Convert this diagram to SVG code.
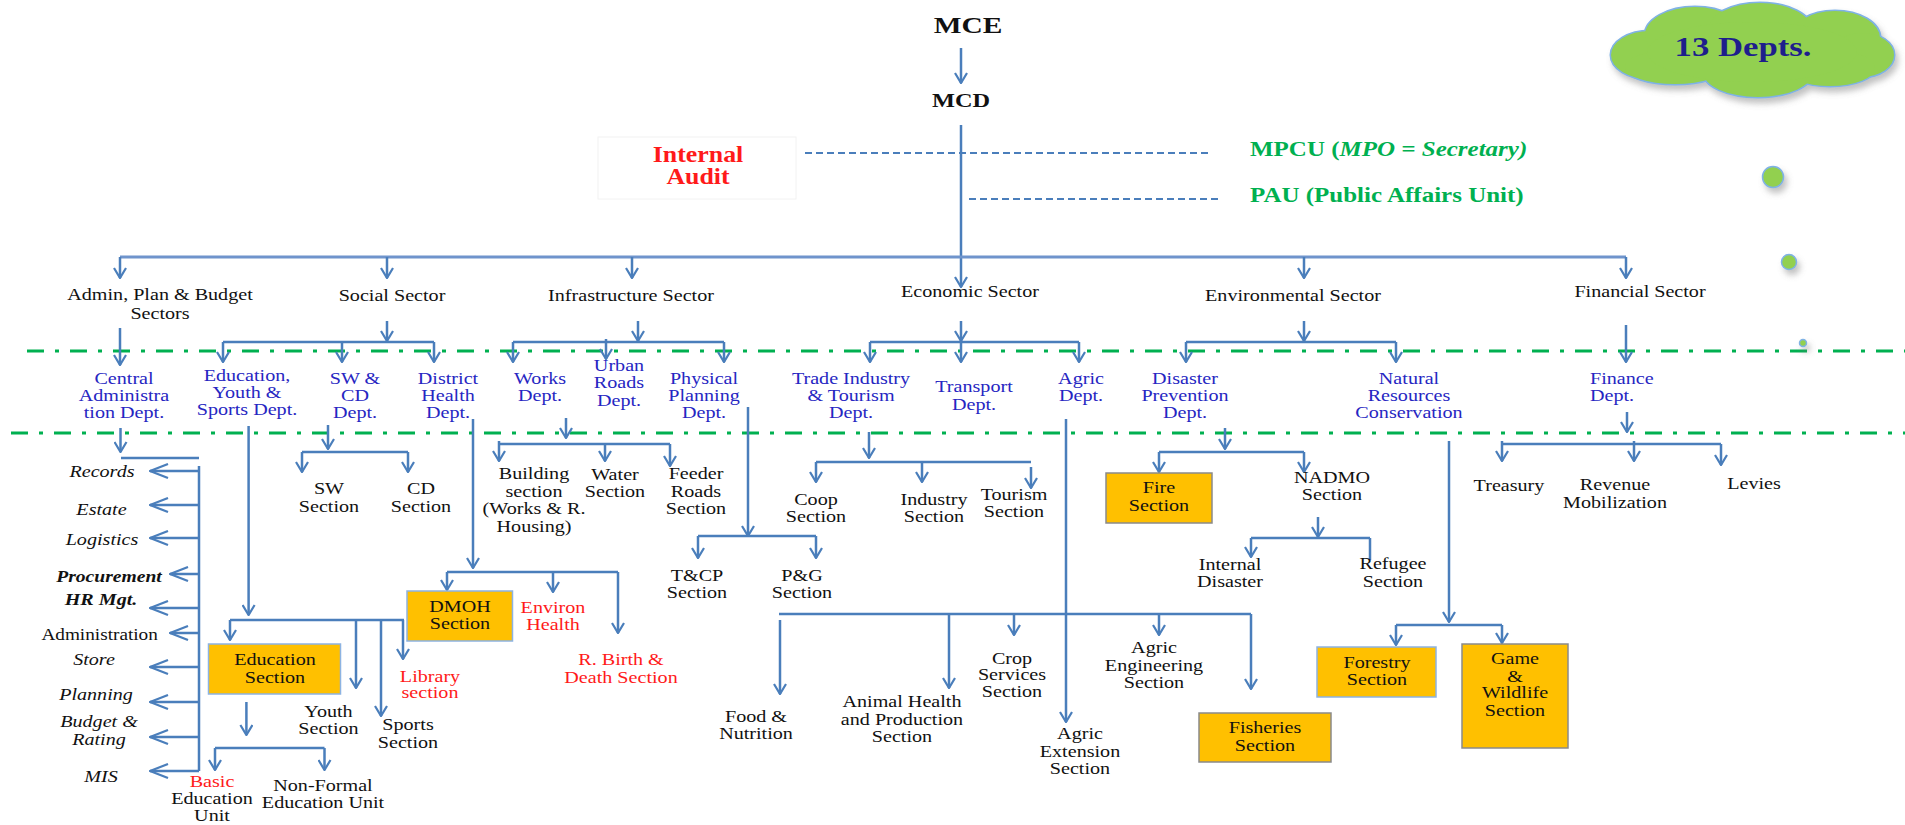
<svg xmlns="http://www.w3.org/2000/svg" width="1905" height="825" viewBox="0 0 1905 825">
<defs>
<style>
.c{fill:none;stroke:#4a7ebb;stroke-width:2.5}
.a{marker-end:url(#ah)}
.al{marker-end:url(#ahL)}
.d{fill:none;stroke:#4a7ebb;stroke-width:2;stroke-dasharray:7 4}
.g{fill:none;stroke:#00b050;stroke-width:3;stroke-dasharray:17 11 4 11}
.t{font-family:"Liberation Serif","Times New Roman",serif;font-size:17.5px;text-anchor:middle;fill:#111}
.s{text-anchor:start}
.i{font-style:italic}
.bi{font-style:italic;font-weight:bold}
.bl{fill:#2626c2}
.r{fill:#ff1a1a}
.box{fill:#ffc000;stroke-width:1.5}
.bb{stroke:#8db3e2}
.bg{stroke:#8a8a8a}
.bub{fill:#92d050;stroke:#7fb2e5;stroke-width:1.5}
.cl-o{fill:#92d050;stroke:#7fb2e5;stroke-width:3}
.cl-f{fill:#92d050;stroke:none}
</style>
<marker id="ah" viewBox="0 0 12 14" refX="11" refY="7" markerWidth="12" markerHeight="14" markerUnits="userSpaceOnUse" orient="auto"><path d="M1,1 L11,7 L1,13" fill="none" stroke="#4a7ebb" stroke-width="2.2"/></marker>
<marker id="ahL" viewBox="0 0 20 16" refX="19" refY="8" markerWidth="20" markerHeight="16" markerUnits="userSpaceOnUse" orient="auto"><path d="M1,1 L19,8 L1,15" fill="none" stroke="#4a7ebb" stroke-width="2.2"/></marker>
<filter id="sh" x="-10%" y="-10%" width="130%" height="140%"><feDropShadow dx="3" dy="5" stdDeviation="3" flood-color="#777" flood-opacity="0.45"/></filter>
</defs>
<rect width="1905" height="825" fill="#fff"/>

<g id="separators">
<path class="g" d="M27,351 H1905"/>
<path class="g" d="M11,433 H1905"/>
</g>

<g id="connectors">
<path class="c a" d="M961,48 V83"/>
<path class="c a" d="M961,125 V287"/>
<path class="d" d="M805,153 H1212"/>
<path class="d" d="M969,199 H1219"/>
<path class="c" d="M120,257 H1626" style="stroke:#6f94cc;stroke-width:3"/>
<path class="c a" d="M120,257 V278"/>
<path class="c a" d="M387,257 V278"/>
<path class="c a" d="M632,257 V278"/>
<path class="c a" d="M1304,257 V278"/>
<path class="c a" d="M1626,257 V278"/>
<path class="c a" d="M120,328 V365"/>
<path class="c a" d="M387,321 V341"/>
<path class="c" d="M223,342 H434"/>
<path class="c a" d="M223,342 V362"/>
<path class="c a" d="M342,342 V362"/>
<path class="c a" d="M434,342 V362"/>
<path class="c a" d="M638,321 V341"/>
<path class="c" d="M513,342 H724"/>
<path class="c a" d="M513,342 V362"/>
<path class="c a" d="M606,339 V359"/>
<path class="c a" d="M724,342 V362"/>
<path class="c a" d="M961,321 V341"/>
<path class="c" d="M870,342 H1079"/>
<path class="c a" d="M870,342 V362"/>
<path class="c a" d="M961,342 V362"/>
<path class="c a" d="M1079,342 V362"/>
<path class="c a" d="M1304,321 V341"/>
<path class="c" d="M1186,342 H1396"/>
<path class="c a" d="M1186,342 V362"/>
<path class="c a" d="M1396,342 V362"/>
<path class="c a" d="M1626,325 V362"/>
<path class="c a" d="M120.5,428 V452"/>
<path class="c" d="M121,458 H199"/>
<path class="c" d="M199,466 V771"/>
<path class="c al" d="M199,471 H150"/>
<path class="c al" d="M199,505 H150"/>
<path class="c al" d="M199,538 H150"/>
<path class="c al" d="M199,574 H170"/>
<path class="c al" d="M199,608 H150"/>
<path class="c al" d="M199,633 H170"/>
<path class="c al" d="M199,667 H150"/>
<path class="c al" d="M199,702 H150"/>
<path class="c al" d="M199,737 H150"/>
<path class="c al" d="M199,771 H150"/>
<path class="c a" d="M248.6,426 V615"/>
<path class="c" d="M230,620 H404"/>
<path class="c a" d="M230,620 V640"/>
<path class="c a" d="M356,620 V688"/>
<path class="c a" d="M381,620 V716"/>
<path class="c a" d="M403,620 V659"/>
<path class="c a" d="M246.4,702 V735"/>
<path class="c" d="M215,748 H324.5"/>
<path class="c a" d="M215,748 V770"/>
<path class="c a" d="M324.5,748 V770"/>
<path class="c a" d="M328,425 V449"/>
<path class="c" d="M302,452 H408"/>
<path class="c a" d="M302,452 V472"/>
<path class="c a" d="M408,452 V472"/>
<path class="c a" d="M473,419 V568"/>
<path class="c" d="M447,572 H618"/>
<path class="c a" d="M447,572 V590"/>
<path class="c a" d="M553,572 V592"/>
<path class="c a" d="M618,572 V633"/>
<path class="c a" d="M566,418 V438"/>
<path class="c" d="M499,444 H670"/>
<path class="c a" d="M499,441 V461"/>
<path class="c a" d="M605,444 V461"/>
<path class="c a" d="M670,444 V466"/>
<path class="c a" d="M748,407 V536"/>
<path class="c" d="M698,536 H816"/>
<path class="c a" d="M698,536 V558"/>
<path class="c a" d="M816,536 V558"/>
<path class="c a" d="M869,432 V458"/>
<path class="c" d="M816,462 H1031"/>
<path class="c a" d="M816,462 V482"/>
<path class="c a" d="M922,462 V482"/>
<path class="c a" d="M1031,467 V488"/>
<path class="c a" d="M1066,419 V722"/>
<path class="c" d="M779,614 H1251"/>
<path class="c a" d="M780,620 V694"/>
<path class="c a" d="M949,614 V688"/>
<path class="c a" d="M1014,614 V635"/>
<path class="c a" d="M1159,614 V635"/>
<path class="c a" d="M1251,614 V689"/>
<path class="c a" d="M1225,428 V449"/>
<path class="c" d="M1159,452 H1304"/>
<path class="c a" d="M1159,452 V472"/>
<path class="c a" d="M1304,452 V472"/>
<path class="c a" d="M1318,517 V537"/>
<path class="c" d="M1251,538 H1370"/>
<path class="c a" d="M1251,538 V557"/>
<path class="c" d="M1370,538 V560"/>
<path class="c a" d="M1449,441 V622"/>
<path class="c" d="M1396,625 H1502"/>
<path class="c a" d="M1396,625 V645"/>
<path class="c a" d="M1502,625 V643"/>
<path class="c a" d="M1627,412 V432"/>
<path class="c" d="M1502,444 H1721"/>
<path class="c a" d="M1502,441 V461"/>
<path class="c a" d="M1634,441 V461"/>
<path class="c a" d="M1721,444 V465"/>
</g>

<g id="mce"><text class="t" style="font-size:23px;font-weight:bold" transform="translate(968,0) scale(1.28,1)" x="0" y="33">MCE</text></g>
<g id="mcd"><text class="t" style="font-size:19px;font-weight:bold" transform="translate(961,0) scale(1.28,1)" x="0" y="107">MCD</text></g>
<g id="internal-audit">
<rect x="598" y="137" width="198" height="62" fill="#fff" stroke="#f2f2f2" stroke-width="1"/>
<text class="t r" style="font-size:22.5px;font-weight:bold" transform="translate(698,0) scale(1.15,1)"><tspan x="0" y="162">Internal</tspan><tspan x="0" y="184">Audit</tspan></text>
</g>
<g id="mpcu"><text class="t s" style="font-size:21px;font-weight:bold;fill:#00b050" transform="translate(1250,0) scale(1.19,1)" x="0" y="156">MPCU (<tspan style="font-style:italic">MPO = Secretary)</tspan></text></g>
<g id="pau"><text class="t s" style="font-size:21px;font-weight:bold;fill:#00b050" transform="translate(1250,0) scale(1.19,1)" x="0" y="202">PAU (Public Affairs Unit)</text></g>
<g id="cloud">
<g filter="url(#sh)">
<ellipse class="cl-o" cx="1650" cy="55" rx="39" ry="24"/>
<ellipse class="cl-o" cx="1695" cy="35" rx="50" ry="28"/>
<ellipse class="cl-o" cx="1760" cy="30" rx="52" ry="27"/>
<ellipse class="cl-o" cx="1835" cy="38" rx="45" ry="27"/>
<ellipse class="cl-o" cx="1862" cy="55" rx="32" ry="22"/>
<ellipse class="cl-o" cx="1675" cy="67" rx="50" ry="17"/>
<ellipse class="cl-o" cx="1758" cy="72" rx="55" ry="25"/>
<ellipse class="cl-o" cx="1830" cy="68" rx="45" ry="18"/>
</g>
<ellipse class="cl-f" cx="1650" cy="55" rx="39" ry="24"/>
<ellipse class="cl-f" cx="1695" cy="35" rx="50" ry="28"/>
<ellipse class="cl-f" cx="1760" cy="30" rx="52" ry="27"/>
<ellipse class="cl-f" cx="1835" cy="38" rx="45" ry="27"/>
<ellipse class="cl-f" cx="1862" cy="55" rx="32" ry="22"/>
<ellipse class="cl-f" cx="1675" cy="67" rx="50" ry="17"/>
<ellipse class="cl-f" cx="1758" cy="72" rx="55" ry="25"/>
<ellipse class="cl-f" cx="1830" cy="68" rx="45" ry="18"/>
<ellipse class="cl-f" cx="1752" cy="52" rx="105" ry="30"/>
<text class="t" style="font-size:28px;font-weight:bold;fill:#1e1e8c" transform="translate(1743,0) scale(1.24,1)" x="0" y="56">13 Depts.</text>
</g>
<g id="bubbles" filter="url(#sh)">
<circle class="bub" cx="1773" cy="177" r="10.5"/>
<circle class="bub" cx="1789" cy="262" r="7.5"/>
<circle class="bub" cx="1803" cy="343" r="3.5"/>
</g>

<g id="sector-admin"><text class="t" transform="translate(160,0) scale(1.15,1)"><tspan x="0" y="300">Admin, Plan &amp; Budget</tspan><tspan x="0" y="319">Sectors</tspan></text></g>
<g id="sector-social"><text class="t" transform="translate(392,0) scale(1.15,1)" x="0" y="301">Social Sector</text></g>
<g id="sector-infra"><text class="t" transform="translate(631,0) scale(1.15,1)" x="0" y="301">Infrastructure Sector</text></g>
<g id="sector-economic"><text class="t" transform="translate(970,0) scale(1.15,1)" x="0" y="297">Economic Sector</text></g>
<g id="sector-env"><text class="t" transform="translate(1293,0) scale(1.15,1)" x="0" y="301">Environmental Sector</text></g>
<g id="sector-fin"><text class="t" transform="translate(1640,0) scale(1.15,1)" x="0" y="297">Financial Sector</text></g>

<g id="dept-central"><text class="t bl" transform="translate(124,0) scale(1.15,1)"><tspan x="0" y="384">Central</tspan><tspan x="0" y="401">Administra</tspan><tspan x="0" y="418">tion Dept.</tspan></text></g>
<g id="dept-education"><text class="t bl" transform="translate(247,0) scale(1.15,1)"><tspan x="0" y="381">Education,</tspan><tspan x="0" y="398">Youth &amp;</tspan><tspan x="0" y="415">Sports Dept.</tspan></text></g>
<g id="dept-swcd"><text class="t bl" transform="translate(355,0) scale(1.15,1)"><tspan x="0" y="384">SW &amp;</tspan><tspan x="0" y="401">CD</tspan><tspan x="0" y="418">Dept.</tspan></text></g>
<g id="dept-health"><text class="t bl" transform="translate(448,0) scale(1.15,1)"><tspan x="0" y="384">District</tspan><tspan x="0" y="401">Health</tspan><tspan x="0" y="418">Dept.</tspan></text></g>
<g id="dept-works"><text class="t bl" transform="translate(540,0) scale(1.15,1)"><tspan x="0" y="384">Works</tspan><tspan x="0" y="401">Dept.</tspan></text></g>
<g id="dept-urban"><text class="t bl" transform="translate(619,0) scale(1.15,1)"><tspan x="0" y="371">Urban</tspan><tspan x="0" y="388">Roads</tspan><tspan x="0" y="406">Dept.</tspan></text></g>
<g id="dept-physical"><text class="t bl" transform="translate(704,0) scale(1.15,1)"><tspan x="0" y="384">Physical</tspan><tspan x="0" y="401">Planning</tspan><tspan x="0" y="418">Dept.</tspan></text></g>
<g id="dept-trade"><text class="t bl" transform="translate(851,0) scale(1.15,1)"><tspan x="0" y="384">Trade Industry</tspan><tspan x="0" y="401">&amp; Tourism</tspan><tspan x="0" y="418">Dept.</tspan></text></g>
<g id="dept-transport"><text class="t bl" transform="translate(974,0) scale(1.15,1)"><tspan x="0" y="392">Transport</tspan><tspan x="0" y="410">Dept.</tspan></text></g>
<g id="dept-agric"><text class="t bl" transform="translate(1081,0) scale(1.15,1)"><tspan x="0" y="384">Agric</tspan><tspan x="0" y="401">Dept.</tspan></text></g>
<g id="dept-disaster"><text class="t bl" transform="translate(1185,0) scale(1.15,1)"><tspan x="0" y="384">Disaster</tspan><tspan x="0" y="401">Prevention</tspan><tspan x="0" y="418">Dept.</tspan></text></g>
<g id="dept-natural"><text class="t bl" transform="translate(1409,0) scale(1.15,1)"><tspan x="0" y="384">Natural</tspan><tspan x="0" y="401">Resources</tspan><tspan x="0" y="418">Conservation</tspan></text></g>
<g id="dept-finance"><text class="t bl s" transform="translate(1590,0) scale(1.15,1)"><tspan x="0" y="384">Finance</tspan><tspan x="0" y="401">Dept.</tspan></text></g>

<g id="admin-units">
<text class="t i" transform="translate(102,0) scale(1.15,1)" x="0" y="477">Records</text>
<text class="t i" transform="translate(101.5,0) scale(1.15,1)" x="0" y="515">Estate</text>
<text class="t i" transform="translate(102,0) scale(1.15,1)" x="0" y="545">Logistics</text>
<text class="t bi" transform="translate(109,0) scale(1.12,1)" x="0" y="582">Procurement</text>
<text class="t bi" transform="translate(101,0) scale(1.15,1)" x="0" y="605">HR Mgt.</text>
<text class="t" transform="translate(99.6,0) scale(1.1,1)" x="0" y="640">Administration</text>
<text class="t i" transform="translate(94,0) scale(1.15,1)" x="0" y="665">Store</text>
<text class="t i" transform="translate(96,0) scale(1.15,1)" x="0" y="700">Planning</text>
<text class="t i" transform="translate(99,0) scale(1.15,1)"><tspan x="0" y="727">Budget &amp;</tspan><tspan x="0" y="745">Rating</tspan></text>
<text class="t i" transform="translate(101,0) scale(1.15,1)" x="0" y="782">MIS</text>
</g>

<g id="sw-section"><text class="t" transform="translate(329,0) scale(1.15,1)"><tspan x="0" y="494">SW</tspan><tspan x="0" y="512">Section</tspan></text></g>
<g id="cd-section"><text class="t" transform="translate(421,0) scale(1.15,1)"><tspan x="0" y="494">CD</tspan><tspan x="0" y="512">Section</tspan></text></g>
<g id="education-section">
<rect class="box bb" x="208.5" y="644" width="132" height="50"/>
<text class="t" transform="translate(275,0) scale(1.15,1)"><tspan x="0" y="665">Education</tspan><tspan x="0" y="683">Section</tspan></text>
</g>
<g id="youth-section"><text class="t" transform="translate(328.5,0) scale(1.15,1)"><tspan x="0" y="717">Youth</tspan><tspan x="0" y="734">Section</tspan></text></g>
<g id="sports-section"><text class="t" transform="translate(408,0) scale(1.15,1)"><tspan x="0" y="730">Sports</tspan><tspan x="0" y="748">Section</tspan></text></g>
<g id="library-section"><text class="t r" transform="translate(430,0) scale(1.15,1)"><tspan x="0" y="682">Library</tspan><tspan x="0" y="698">section</tspan></text></g>
<g id="basic-education"><text class="t" transform="translate(212,0) scale(1.15,1)"><tspan x="0" y="787" class="r">Basic</tspan><tspan x="0" y="804">Education</tspan><tspan x="0" y="821">Unit</tspan></text></g>
<g id="nonformal-education"><text class="t" transform="translate(323,0) scale(1.15,1)"><tspan x="0" y="791">Non-Formal</tspan><tspan x="0" y="808">Education Unit</tspan></text></g>
<g id="dmoh-section">
<rect class="box bb" x="407" y="591" width="105.5" height="50"/>
<text class="t" transform="translate(460,0) scale(1.15,1)"><tspan x="0" y="612">DMOH</tspan><tspan x="0" y="629">Section</tspan></text>
</g>
<g id="environ-health"><text class="t r" transform="translate(553,0) scale(1.15,1)"><tspan x="0" y="613">Environ</tspan><tspan x="0" y="630">Health</tspan></text></g>
<g id="birth-death"><text class="t r" transform="translate(621,0) scale(1.15,1)"><tspan x="0" y="665">R. Birth &amp;</tspan><tspan x="0" y="683">Death Section</tspan></text></g>

<g id="building-section"><text class="t" transform="translate(534,0) scale(1.15,1)"><tspan x="0" y="479">Building</tspan><tspan x="0" y="497">section</tspan><tspan x="0" y="514">(Works &amp; R.</tspan><tspan x="0" y="532">Housing)</tspan></text></g>
<g id="water-section"><text class="t" transform="translate(615,0) scale(1.15,1)"><tspan x="0" y="480">Water</tspan><tspan x="0" y="497">Section</tspan></text></g>
<g id="feeder-roads"><text class="t" transform="translate(696,0) scale(1.15,1)"><tspan x="0" y="479">Feeder</tspan><tspan x="0" y="497">Roads</tspan><tspan x="0" y="514">Section</tspan></text></g>
<g id="tcp-section"><text class="t" transform="translate(697,0) scale(1.15,1)"><tspan x="0" y="581">T&amp;CP</tspan><tspan x="0" y="598">Section</tspan></text></g>
<g id="pg-section"><text class="t" transform="translate(802,0) scale(1.15,1)"><tspan x="0" y="581">P&amp;G</tspan><tspan x="0" y="598">Section</tspan></text></g>

<g id="coop-section"><text class="t" transform="translate(816,0) scale(1.15,1)"><tspan x="0" y="505">Coop</tspan><tspan x="0" y="522">Section</tspan></text></g>
<g id="industry-section"><text class="t" transform="translate(934,0) scale(1.15,1)"><tspan x="0" y="505">Industry</tspan><tspan x="0" y="522">Section</tspan></text></g>
<g id="tourism-section"><text class="t" transform="translate(1014,0) scale(1.15,1)"><tspan x="0" y="500">Tourism</tspan><tspan x="0" y="517">Section</tspan></text></g>
<g id="food-nutrition"><text class="t" transform="translate(756,0) scale(1.15,1)"><tspan x="0" y="722">Food &amp;</tspan><tspan x="0" y="739">Nutrition</tspan></text></g>
<g id="animal-health"><text class="t" transform="translate(902,0) scale(1.15,1)"><tspan x="0" y="707">Animal Health</tspan><tspan x="0" y="725">and Production</tspan><tspan x="0" y="742">Section</tspan></text></g>
<g id="crop-services"><text class="t" transform="translate(1012,0) scale(1.15,1)"><tspan x="0" y="664">Crop</tspan><tspan x="0" y="680">Services</tspan><tspan x="0" y="697">Section</tspan></text></g>
<g id="agric-engineering"><text class="t" transform="translate(1154,0) scale(1.15,1)"><tspan x="0" y="653">Agric</tspan><tspan x="0" y="671">Engineering</tspan><tspan x="0" y="688">Section</tspan></text></g>
<g id="agric-extension"><text class="t" transform="translate(1080,0) scale(1.15,1)"><tspan x="0" y="739">Agric</tspan><tspan x="0" y="757">Extension</tspan><tspan x="0" y="774">Section</tspan></text></g>
<g id="fisheries-section">
<rect class="box bg" x="1199" y="713" width="132" height="49"/>
<text class="t" transform="translate(1265,0) scale(1.15,1)"><tspan x="0" y="733">Fisheries</tspan><tspan x="0" y="751">Section</tspan></text>
</g>

<g id="fire-section">
<rect class="box bg" x="1106" y="473" width="106" height="50"/>
<text class="t" transform="translate(1159,0) scale(1.15,1)"><tspan x="0" y="493">Fire</tspan><tspan x="0" y="511">Section</tspan></text>
</g>
<g id="nadmo-section"><text class="t" transform="translate(1332,0) scale(1.15,1)"><tspan x="0" y="483">NADMO</tspan><tspan x="0" y="500">Section</tspan></text></g>
<g id="internal-disaster"><text class="t" transform="translate(1230,0) scale(1.15,1)"><tspan x="0" y="570">Internal</tspan><tspan x="0" y="587">Disaster</tspan></text></g>
<g id="refugee-section"><text class="t" transform="translate(1393,0) scale(1.15,1)"><tspan x="0" y="569">Refugee</tspan><tspan x="0" y="587">Section</tspan></text></g>
<g id="forestry-section">
<rect class="box bb" x="1317" y="647" width="119" height="50"/>
<text class="t" transform="translate(1377,0) scale(1.15,1)"><tspan x="0" y="668">Forestry</tspan><tspan x="0" y="685">Section</tspan></text>
</g>
<g id="game-wildlife-section">
<rect class="box bg" x="1462" y="644" width="106" height="104"/>
<text class="t" transform="translate(1515,0) scale(1.15,1)"><tspan x="0" y="664">Game</tspan><tspan x="0" y="682">&amp;</tspan><tspan x="0" y="698">Wildlife</tspan><tspan x="0" y="716">Section</tspan></text>
</g>

<g id="treasury"><text class="t" transform="translate(1509,0) scale(1.15,1)" x="0" y="491">Treasury</text></g>
<g id="revenue"><text class="t" transform="translate(1615,0) scale(1.15,1)"><tspan x="0" y="490">Revenue</tspan><tspan x="0" y="508">Mobilization</tspan></text></g>
<g id="levies"><text class="t" transform="translate(1754,0) scale(1.15,1)" x="0" y="489">Levies</text></g>
</svg>
